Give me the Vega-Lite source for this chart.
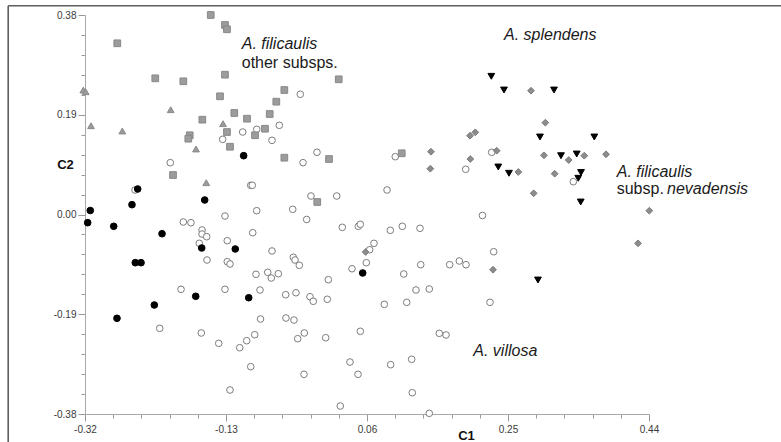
{
  "$schema": "https://vega.github.io/schema/vega-lite/v6.json",
  "width": 564,
  "height": 399,
  "autosize": "none",
  "padding": {"left": 85, "top": 15, "right": 132, "bottom": 28},
  "background": "white",
  "config": {"view": {"stroke": null}},
  "resolve": {"axis": {"x": "independent", "y": "independent"}},
  "layer": [
    {
      "data": {"values": [{}]},
      "mark": {"type": "rule", "opacity": 0},
      "encoding": {
        "x": {"datum": 0, "type": "quantitative",
          "axis": {
            "orient": "bottom",
            "values": [-0.282,-0.244,-0.206,-0.168,-0.092,-0.054,-0.016,0.022,0.098,0.136,0.174,0.212,0.288,0.326,0.364,0.402],
            "labels": false, "domain": false, "grid": false, "title": null, "ticks": true,
            "tickSize": 4, "tickColor": "#999999", "tickWidth": 1
          }},
        "y": {"datum": 0, "type": "quantitative",
          "axis": {
            "orient": "left",
            "values": [-0.342,-0.304,-0.266,-0.228,-0.152,-0.114,-0.076,-0.038,0.038,0.076,0.114,0.152,0.228,0.266,0.304,0.342],
            "labels": false, "domain": false, "grid": false, "title": null, "ticks": true,
            "tickSize": 4, "tickColor": "#999999", "tickWidth": 1
          }}
      }
    },
    {
      "data": {"values": [
        {"g":"villosa","c1":-0.1075,"c2":0.1571},{"g":"villosa","c1":-0.0886,"c2":0.1623},{"g":"villosa","c1":-0.1345,"c2":0.1432},{"g":"villosa","c1":-0.2051,"c2":0.0987},
        {"g":"villosa","c1":-0.0967,"c2":0.0556},{"g":"villosa","c1":-0.0946,"c2":0.0556},{"g":"villosa","c1":-0.2526,"c2":0.0467},{"g":"villosa","c1":-0.1314,"c2":-0.0029},
        {"g":"villosa","c1":-0.0886,"c2":0.0072},{"g":"villosa","c1":-0.1875,"c2":-0.0143},{"g":"villosa","c1":-0.1772,"c2":-0.0156},{"g":"villosa","c1":-0.1623,"c2":-0.0295},
        {"g":"villosa","c1":-0.1623,"c2":-0.0372},{"g":"villosa","c1":-0.1560,"c2":-0.0423},{"g":"villosa","c1":-0.1660,"c2":-0.0549},{"g":"villosa","c1":-0.1283,"c2":-0.0499},
        {"g":"villosa","c1":-0.0940,"c2":-0.0347},{"g":"villosa","c1":-0.1556,"c2":-0.0867},{"g":"villosa","c1":-0.1283,"c2":-0.0899},{"g":"villosa","c1":-0.1246,"c2":-0.0943},
        {"g":"villosa","c1":-0.0896,"c2":-0.1139},{"g":"villosa","c1":-0.1906,"c2":-0.1425},{"g":"villosa","c1":-0.1314,"c2":-0.1425},{"g":"villosa","c1":-0.0842,"c2":-0.1438},
        {"g":"villosa","c1":-0.2193,"c2":-0.2168},{"g":"villosa","c1":-0.1633,"c2":-0.2257},{"g":"villosa","c1":-0.1398,"c2":-0.2454},{"g":"villosa","c1":-0.1115,"c2":-0.2537},
        {"g":"villosa","c1":-0.1021,"c2":-0.2404},{"g":"villosa","c1":-0.0913,"c2":-0.2290},{"g":"villosa","c1":-0.0835,"c2":-0.1991},{"g":"villosa","c1":-0.0967,"c2":-0.2899},
        {"g":"villosa","c1":-0.1246,"c2":-0.3343},{"g":"villosa","c1":-0.0299,"c2":0.2290},{"g":"villosa","c1":-0.0582,"c2":0.1699},{"g":"villosa","c1":-0.0680,"c2":0.1413},
        {"g":"villosa","c1":-0.0262,"c2":0.0987},{"g":"villosa","c1":-0.0074,"c2":0.1185},{"g":"villosa","c1":-0.0155,"c2":0.0352},{"g":"villosa","c1":0.0192,"c2":0.0352},
        {"g":"villosa","c1":-0.0401,"c2":0.0099},{"g":"villosa","c1":-0.0213,"c2":-0.0095},{"g":"villosa","c1":0.0981,"c2":0.1101},{"g":"villosa","c1":0.0870,"c2":0.0467},
        {"g":"villosa","c1":0.1930,"c2":0.0861},{"g":"villosa","c1":0.2280,"c2":0.1185},{"g":"villosa","c1":0.2156,"c2":-0.0019},{"g":"villosa","c1":0.3380,"c2":0.0625},
        {"g":"villosa","c1":0.2307,"c2":-0.0709},{"g":"villosa","c1":0.2257,"c2":-0.1673},{"g":"villosa","c1":-0.0680,"c2":-0.0695},{"g":"villosa","c1":-0.0393,"c2":-0.0815},
        {"g":"villosa","c1":-0.0370,"c2":-0.0867},{"g":"villosa","c1":-0.0312,"c2":-0.0968},{"g":"villosa","c1":-0.0738,"c2":-0.1101},{"g":"villosa","c1":-0.0690,"c2":-0.1210},
        {"g":"villosa","c1":-0.0595,"c2":-0.1128},{"g":"villosa","c1":-0.0496,"c2":-0.1528},{"g":"villosa","c1":-0.0357,"c2":-0.1490},{"g":"villosa","c1":-0.0168,"c2":-0.1566},
        {"g":"villosa","c1":-0.0124,"c2":-0.1653},{"g":"villosa","c1":0.0065,"c2":-0.1615},{"g":"villosa","c1":0.0079,"c2":-0.1242},{"g":"villosa","c1":-0.0492,"c2":-0.1972},
        {"g":"villosa","c1":-0.0384,"c2":-0.2010},{"g":"villosa","c1":-0.0245,"c2":-0.2257},{"g":"villosa","c1":-0.0334,"c2":-0.2366},{"g":"villosa","c1":0.0043,"c2":-0.2347},
        {"g":"villosa","c1":-0.0249,"c2":-0.3044},{"g":"villosa","c1":0.0267,"c2":-0.0244},{"g":"villosa","c1":0.0483,"c2":-0.0225},{"g":"villosa","c1":0.0510,"c2":-0.0187},
        {"g":"villosa","c1":0.0694,"c2":-0.0549},{"g":"villosa","c1":0.0636,"c2":-0.0671},{"g":"villosa","c1":0.0591,"c2":-0.0918},{"g":"villosa","c1":0.0398,"c2":-0.1033},
        {"g":"villosa","c1":0.0914,"c2":-0.0301},{"g":"villosa","c1":0.1076,"c2":-0.0225},{"g":"villosa","c1":0.1314,"c2":-0.0263},{"g":"villosa","c1":0.1095,"c2":-0.1133},
        {"g":"villosa","c1":0.1324,"c2":-0.0956},{"g":"villosa","c1":0.1260,"c2":-0.1438},{"g":"villosa","c1":0.1439,"c2":-0.1419},{"g":"villosa","c1":0.1135,"c2":-0.1673},
        {"g":"villosa","c1":0.0833,"c2":-0.1711},{"g":"villosa","c1":0.1714,"c2":-0.0956},{"g":"villosa","c1":0.1844,"c2":-0.0886},{"g":"villosa","c1":0.1934,"c2":-0.0956},
        {"g":"villosa","c1":0.0510,"c2":-0.2225},{"g":"villosa","c1":0.1574,"c2":-0.2263},{"g":"villosa","c1":0.1665,"c2":-0.2295},{"g":"villosa","c1":0.0371,"c2":-0.2810},
        {"g":"villosa","c1":0.0479,"c2":-0.3044},{"g":"villosa","c1":0.0919,"c2":-0.2861},{"g":"villosa","c1":0.1202,"c2":-0.2758},{"g":"villosa","c1":0.1210,"c2":-0.3394},
        {"g":"villosa","c1":0.0240,"c2":-0.3648},{"g":"villosa","c1":0.1439,"c2":-0.3787},
        {"g":"black","c1":-0.1062,"c2":0.1120},{"g":"black","c1":-0.2490,"c2":0.0486},{"g":"black","c1":-0.2567,"c2":0.0187},{"g":"black","c1":-0.1587,"c2":0.0276},
        {"g":"black","c1":-0.3129,"c2":0.0076},{"g":"black","c1":-0.3164,"c2":-0.0156},{"g":"black","c1":-0.2813,"c2":-0.0225},{"g":"black","c1":-0.2162,"c2":-0.0366},
        {"g":"black","c1":-0.1627,"c2":-0.0638},{"g":"black","c1":-0.1175,"c2":-0.0657},{"g":"black","c1":-0.2522,"c2":-0.0918},{"g":"black","c1":-0.2445,"c2":-0.0918},
        {"g":"black","c1":-0.1708,"c2":-0.1558},{"g":"black","c1":-0.0994,"c2":-0.1585},{"g":"black","c1":-0.2266,"c2":-0.1724},{"g":"black","c1":-0.2769,"c2":-0.1977},
        {"g":"black","c1":0.0542,"c2":-0.1114},
        {"g":"filicaulis_sq","c1":-0.1506,"c2":0.3800},{"g":"filicaulis_sq","c1":-0.1314,"c2":0.3610},{"g":"filicaulis_sq","c1":-0.1287,"c2":0.3528},{"g":"filicaulis_sq","c1":-0.2765,"c2":0.3261},
        {"g":"filicaulis_sq","c1":-0.2253,"c2":0.2594},{"g":"filicaulis_sq","c1":-0.1875,"c2":0.2537},{"g":"filicaulis_sq","c1":-0.1314,"c2":0.2663},{"g":"filicaulis_sq","c1":-0.1381,"c2":0.2251},
        {"g":"filicaulis_sq","c1":-0.1188,"c2":0.1933},{"g":"filicaulis_sq","c1":-0.1017,"c2":0.1825},{"g":"filicaulis_sq","c1":-0.1619,"c2":0.1806},{"g":"filicaulis_sq","c1":-0.1287,"c2":0.1571},
        {"g":"filicaulis_sq","c1":-0.0909,"c2":0.1509},{"g":"filicaulis_sq","c1":-0.1789,"c2":0.1509},{"g":"filicaulis_sq","c1":-0.1808,"c2":0.1444},{"g":"filicaulis_sq","c1":-0.1246,"c2":0.1291},
        {"g":"filicaulis_sq","c1":-0.2014,"c2":0.0752},{"g":"filicaulis_sq","c1":0.0219,"c2":0.2575},{"g":"filicaulis_sq","c1":-0.0514,"c2":0.2371},{"g":"filicaulis_sq","c1":-0.0622,"c2":0.2149},
        {"g":"filicaulis_sq","c1":-0.0711,"c2":0.1914},{"g":"filicaulis_sq","c1":-0.0775,"c2":0.1634},{"g":"filicaulis_sq","c1":-0.0514,"c2":0.1082},{"g":"filicaulis_sq","c1":0.0088,"c2":0.1057},
        {"g":"filicaulis_sq","c1":-0.0070,"c2":0.0238},{"g":"filicaulis_sq","c1":0.1068,"c2":0.1166},
        {"g":"filicaulis_tri","c1":-0.3223,"c2":0.2371},{"g":"filicaulis_tri","c1":-0.3191,"c2":0.2339},{"g":"filicaulis_tri","c1":-0.2045,"c2":0.1996},{"g":"filicaulis_tri","c1":-0.3119,"c2":0.1691},
        {"g":"filicaulis_tri","c1":-0.2697,"c2":0.1590},{"g":"filicaulis_tri","c1":-0.1340,"c2":0.1730},{"g":"filicaulis_tri","c1":-0.1704,"c2":0.1248},{"g":"filicaulis_tri","c1":-0.1566,"c2":0.0606},
        {"g":"nevadensis","c1":0.1462,"c2":0.1196},{"g":"nevadensis","c1":0.1453,"c2":0.0872},{"g":"nevadensis","c1":0.1988,"c2":0.1501},{"g":"nevadensis","c1":0.2059,"c2":0.1566},
        {"g":"nevadensis","c1":0.1992,"c2":0.1057},{"g":"nevadensis","c1":0.2348,"c2":0.1215},{"g":"nevadensis","c1":0.2810,"c2":0.2358},{"g":"nevadensis","c1":0.3003,"c2":0.1749},
        {"g":"nevadensis","c1":0.2985,"c2":0.1128},{"g":"nevadensis","c1":0.3318,"c2":0.1038},{"g":"nevadensis","c1":0.3528,"c2":0.1120},{"g":"nevadensis","c1":0.3821,"c2":0.1147},
        {"g":"nevadensis","c1":0.2639,"c2":0.0810},{"g":"nevadensis","c1":0.3129,"c2":0.0777},{"g":"nevadensis","c1":0.2846,"c2":0.0404},{"g":"nevadensis","c1":0.4404,"c2":0.0072},
        {"g":"nevadensis","c1":0.4252,"c2":-0.0549},{"g":"nevadensis","c1":0.2298,"c2":-0.1052},{"g":"nevadensis","c1":0.0582,"c2":-0.0714},
        {"g":"splendens","c1":0.2275,"c2":0.2632},{"g":"splendens","c1":0.2446,"c2":0.2371},{"g":"splendens","c1":0.3120,"c2":0.2371},{"g":"splendens","c1":0.2931,"c2":0.1476},
        {"g":"splendens","c1":0.3663,"c2":0.1476},{"g":"splendens","c1":0.3214,"c2":0.1120},{"g":"splendens","c1":0.3426,"c2":0.1152},{"g":"splendens","c1":0.2369,"c2":0.0905},
        {"g":"splendens","c1":0.2513,"c2":0.0785},{"g":"splendens","c1":0.3484,"c2":0.0800},{"g":"splendens","c1":0.3447,"c2":0.0690},{"g":"splendens","c1":0.3480,"c2":0.0238},
        {"g":"splendens","c1":0.2904,"c2":-0.1248}
      ]},
      "mark": {"type": "point", "filled": true, "strokeWidth": 1, "opacity": 1},
      "encoding": {
        "x": {
          "field": "c1", "type": "quantitative",
          "scale": {"domain": [-0.32, 0.44], "nice": false, "zero": false},
          "axis": {
            "orient": "bottom",
            "values": [-0.32,-0.13,0.06,0.25,0.44],
            "format": ".2f",
            "labelExpr": "replace(datum.label, '\u2212', '-')",
            "ticks": true,
            "tickSize": 7,
            "tickWidth": 1,
            "grid": false,
            "domainColor": "#a8a8a8",
            "tickColor": "#999999",
            "labelColor": "#3a3a3a",
            "labelFont": "Liberation Sans",
            "labelFontSize": 10,
            "labelPadding": 3,
            "labelOverlap": false,
            "labelFlush": false,
            "title": "C1",
            "titleFont": "Liberation Sans",
            "titleFontSize": 13,
            "titleFontWeight": "bold",
            "titleColor": "#111111",
            "titleX": 381,
            "titleY": 25,
            "titleAlign": "center",
            "titleBaseline": "alphabetic"
          }
        },
        "y": {
          "field": "c2", "type": "quantitative",
          "scale": {"domain": [-0.38, 0.38], "nice": false, "zero": false},
          "axis": {
            "orient": "left",
            "values": [-0.38,-0.19,0,0.19,0.38],
            "format": ".2f",
            "labelExpr": "replace(datum.label, '\u2212', '-')",
            "ticks": true,
            "tickSize": 7,
            "tickWidth": 1,
            "grid": false,
            "domainColor": "#a8a8a8",
            "tickColor": "#999999",
            "labelColor": "#3a3a3a",
            "labelFont": "Liberation Sans",
            "labelFontSize": 10,
            "labelPadding": 2,
            "labelOverlap": false,
            "labelFlush": false,
            "title": "C2",
            "titleFont": "Liberation Sans",
            "titleFontSize": 13,
            "titleFontWeight": "bold",
            "titleColor": "#111111",
            "titleAngle": 0,
            "titleX": -20,
            "titleY": 153,
            "titleAlign": "center",
            "titleBaseline": "alphabetic"
          }
        },
        "shape": {"field": "g", "type": "nominal", "legend": null,
          "scale": {"domain": ["villosa","black","filicaulis_sq","filicaulis_tri","nevadensis","splendens"],
                    "range": ["circle","circle","square","triangle-up","diamond","triangle-down"]}},
        "fill": {"field": "g", "type": "nominal", "legend": null,
          "scale": {"domain": ["villosa","black","filicaulis_sq","filicaulis_tri","nevadensis","splendens"],
                    "range": ["#ffffff","#000000","#9c9c9c","#9c9c9c","#8c8c8c","#000000"]}},
        "stroke": {"field": "g", "type": "nominal", "legend": null,
          "scale": {"domain": ["villosa","black","filicaulis_sq","filicaulis_tri","nevadensis","splendens"],
                    "range": ["#7d7d7d","#000000","#888888","#888888","#7a7a7a","#000000"]}},
        "size": {"field": "g", "type": "nominal", "legend": null,
          "scale": {"domain": ["villosa","black","filicaulis_sq","filicaulis_tri","nevadensis","splendens"],
                    "range": [44, 46, 40, 46, 40, 24]}}
      }
    },
    {
      "data": {"values": [
        {"t": "A. filicaulis", "c1": -0.1088, "c2": 0.3147},
        {"t": "A. splendens", "c1": 0.2446, "c2": 0.3318},
        {"t": "A. filicaulis", "c1": 0.3965, "c2": 0.0714},
        {"t": "nevadensis", "c1": 0.4643, "c2": 0.0390},
        {"t": "A. villosa", "c1": 0.2032, "c2": -0.2695}
      ]},
      "mark": {"type": "text", "align": "left", "baseline": "alphabetic", "font": "Liberation Sans", "fontSize": 16, "fontStyle": "italic", "color": "#1a1a1a"},
      "encoding": {
        "x": {"field": "c1", "type": "quantitative", "axis": null},
        "y": {"field": "c2", "type": "quantitative", "axis": null},
        "text": {"field": "t"}
      }
    },
    {
      "data": {"values": [
        {"t": "other subsps.", "c1": -0.1088, "c2": 0.2785},
        {"t": "subsp.", "c1": 0.3965, "c2": 0.0390}
      ]},
      "mark": {"type": "text", "align": "left", "baseline": "alphabetic", "font": "Liberation Sans", "fontSize": 16, "color": "#1a1a1a"},
      "encoding": {
        "x": {"field": "c1", "type": "quantitative", "axis": null},
        "y": {"field": "c2", "type": "quantitative", "axis": null},
        "text": {"field": "t"}
      }
    },
    {
      "data": {"values": [{}]},
      "mark": {"type": "rule", "color": "#5e5e5e", "strokeWidth": 1.6, "clip": false},
      "encoding": {
        "x": {"datum": -0.4235, "type": "quantitative", "axis": null},
        "x2": {"datum": 0.62},
        "y": {"datum": 0.3977, "type": "quantitative", "axis": null}
      }
    },
    {
      "data": {"values": [{}]},
      "mark": {"type": "rule", "color": "#5e5e5e", "strokeWidth": 1.6, "clip": false},
      "encoding": {
        "x": {"datum": -0.4235, "type": "quantitative", "axis": null},
        "y": {"datum": 0.3977, "type": "quantitative", "axis": null},
        "y2": {"datum": -0.44}
      }
    }
  ]
}
